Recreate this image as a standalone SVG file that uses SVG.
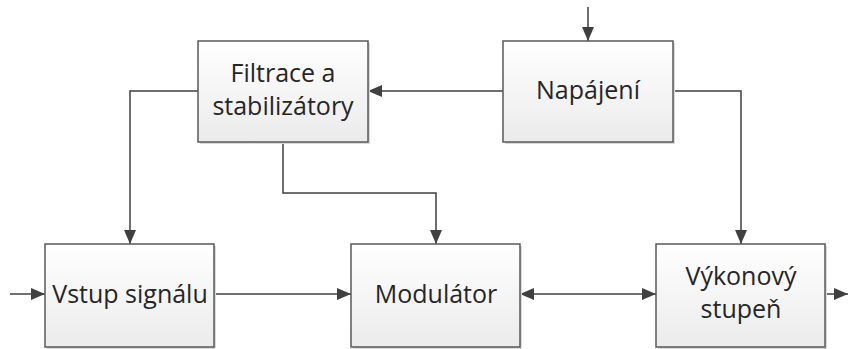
<svg xmlns="http://www.w3.org/2000/svg" width="848" height="349" viewBox="0 0 848 349">
<style>
.box{fill:url(#g);stroke:#595959;stroke-width:1.5}
.sh{fill:#d9d9d9}
.t{font-family:"Open Sans","Liberation Sans",sans-serif;font-size:25px;fill:#262626;text-anchor:middle}
.c{fill:none;stroke:#404040;stroke-width:1.5}
</style>
<defs>
<linearGradient id="g" x1="0" y1="0" x2="0" y2="1">
<stop offset="0" stop-color="#ffffff"/>
<stop offset="1" stop-color="#ebebeb"/>
</linearGradient>
<marker id="a" viewBox="0 0 14 12" refX="14" refY="6" markerWidth="14" markerHeight="12" markerUnits="userSpaceOnUse" orient="auto-start-reverse">
<path d="M0,0 L14,6 L0,12 Z" fill="#404040"/>
</marker>
</defs>
<g id="connectors">
<path class="c" d="M588,7 V41" marker-end="url(#a)"/>
<path class="c" d="M503,91 H368" marker-end="url(#a)"/>
<path class="c" d="M198,91 H130 V244" marker-end="url(#a)"/>
<path class="c" d="M283,142 V193 H436 V244" marker-end="url(#a)"/>
<path class="c" d="M673,91 H741 V244" marker-end="url(#a)"/>
<path class="c" d="M10,294 H45" marker-end="url(#a)"/>
<path class="c" d="M214,294 H351" marker-end="url(#a)"/>
<path class="c" d="M520,294 H656" marker-start="url(#a)" marker-end="url(#a)"/>
<path class="c" d="M825,294 H848" marker-end="url(#a)"/>
</g>
<g id="filtrace">
<rect class="sh" x="200" y="43" width="170" height="101"/>
<rect class="box" x="198" y="41" width="170" height="101"/>
<text class="t" x="283" y="82">Filtrace a</text>
<text class="t" x="283" y="115">stabilizátory</text>
</g>
<g id="napajeni">
<rect class="sh" x="505" y="43" width="170" height="101"/>
<rect class="box" x="503" y="41" width="170" height="101"/>
<text class="t" x="588" y="99">Napájení</text>
</g>
<g id="vstup">
<rect class="sh" x="47" y="246" width="169" height="103"/>
<rect class="box" x="45" y="244" width="169" height="103"/>
<text class="t" x="130" y="303">Vstup signálu</text>
</g>
<g id="modulator">
<rect class="sh" x="353" y="246" width="169" height="103"/>
<rect class="box" x="351" y="244" width="169" height="103"/>
<text class="t" x="436" y="303">Modulátor</text>
</g>
<g id="vykonovy">
<rect class="sh" x="658" y="246" width="169" height="103"/>
<rect class="box" x="656" y="244" width="169" height="103"/>
<text class="t" x="741" y="285">Výkonový</text>
<text class="t" x="741" y="318">stupeň</text>
</g>
</svg>
